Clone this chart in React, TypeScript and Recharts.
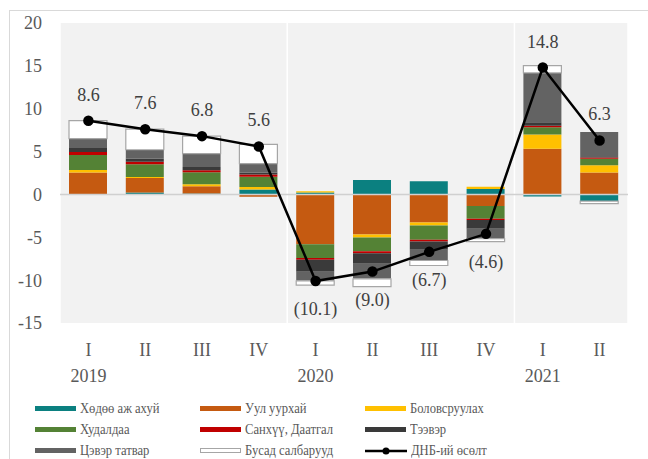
import {
  Bar,
  CartesianGrid,
  ComposedChart,
  LabelList,
  Line,
  ReferenceLine,
  XAxis,
  YAxis,
} from 'recharts'

const quarters = ['I', 'II', 'III', 'IV', 'I', 'II', 'III', 'IV', 'I', 'II']
const years = ['2019', '', '', '', '2020', '', '', '', '2021', '']

// contributions to GDP growth, percentage points
const agriculture = [0, 0.23, 0.1, 0.58, 0.23, 1.67, 1.55, 0.62, -0.23, -0.78]
const mining = [2.57, 1.7, 0.85, -0.27, -5.8, -4.67, -3.27, -1.36, 5.33, 2.57]
const manufacturing = [0.27, 0.1, 0.23, 0.3, 0.15, -0.35, -0.35, 0.27, 1.67, 0.82]
const trade = [1.75, 1.48, 1.4, 1.17, -1.63, -1.6, -1.67, -1.48, 0.85, 0.78]
const finance = [0.35, 0.3, 0.23, 0.27, -0.2, -0.23, -0.2, -0.15, 0.15, 0.15]
const transport = [0.47, 0.35, 0.39, 0.23, -1.4, -1.25, -0.97, -1.0, 0.43, 0.05]
const netTax = [1.09, 1.05, 1.56, 1.05, -1.05, -1.75, -1.25, -1.17, 5.75, 2.92]
const other = [2.1, 2.4, 2.04, 2.25, -0.5, -0.9, -0.58, -0.35, 0.85, -0.3]
const gdpGrowth = [8.6, 7.6, 6.8, 5.6, -10.1, -9.0, -6.7, -4.6, 14.8, 6.3]

const yTicks = [-15, -10, -5, 0, 5, 10, 15, 20]
const yearBreaks = [4, 8]

const series = [
  { key: 'agriculture', name: 'Хөдөө аж ахуй', color: '#0b8080' },
  { key: 'mining', name: 'Уул уурхай', color: '#c55a11' },
  { key: 'manufacturing', name: 'Боловсруулах', color: '#ffc000' },
  { key: 'trade', name: 'Худалдаа', color: '#548235' },
  { key: 'finance', name: 'Санхүү, Даатгал', color: '#c00000' },
  { key: 'transport', name: 'Тээвэр', color: '#3a3a3a' },
  { key: 'netTax', name: 'Цэвэр татвар', color: '#636363' },
  { key: 'other', name: 'Бусад салбарууд', color: '#ffffff' },
]

const data = quarters.map((q, i) => ({
  q,
  year: years[i],
  idx: i + 0.5,
  agriculture: agriculture[i],
  mining: mining[i],
  manufacturing: manufacturing[i],
  trade: trade[i],
  finance: finance[i],
  transport: transport[i],
  netTax: netTax[i],
  other: other[i],
  gdp: gdpGrowth[i],
}))

const FONT = 'Liberation Serif, Tinos, DejaVu Serif, serif'

const QuarterTick = (props: any) => {
  const { x, y, payload } = props
  const year = years[payload.index]
  return (
    <g>
      <text x={x} y={y + 25} textAnchor="middle" fontSize={18} fill="#595959" fontFamily={FONT}>
        {payload.value}
      </text>
      {year && (
        <text x={x} y={y + 51} textAnchor="middle" fontSize={18} fill="#595959" fontFamily={FONT}>
          {year}
        </text>
      )}
    </g>
  )
}

const GrowthLabel = (props: any) => {
  const { x, y, value } = props
  if (value == null) return null
  const neg = value < 0
  const text = neg ? `(${Math.abs(value).toFixed(1)})` : value.toFixed(1)
  return (
    <text x={x} y={y + (neg ? 34 : -20)} textAnchor="middle" fontSize={18} fill="#404040" fontFamily={FONT}>
      {text}
    </text>
  )
}

const legendItems = [
  ...series.map((s) => ({ name: s.name, color: s.color, kind: s.key === 'other' ? 'outline' : 'bar' })),
  { name: 'ДНБ-ий өсөлт', color: '#000000', kind: 'line' },
]

const Swatch = ({ kind, color }: { kind: string; color: string }) => {
  if (kind === 'line') {
    return (
      <svg width={42} height={10} style={{ display: 'block', flex: 'none' }}>
        <line x1={0} y1={5} x2={42} y2={5} stroke="#000" strokeWidth={2.5} />
        <circle cx={21} cy={5} r={3.5} fill="#000" />
      </svg>
    )
  }
  return (
    <div
      style={{
        flex: 'none',
        width: kind === 'outline' ? 39 : 41,
        height: kind === 'outline' ? 3 : 5,
        background: color,
        border: kind === 'outline' ? '1px solid #a6a6a6' : 'none',
      }}
    />
  )
}

export default function App() {
  return (
    <div
      style={{
        position: 'absolute',
        left: 0,
        top: 0,
        width: 648,
        height: 459,
        background: '#ffffff',
        overflow: 'hidden',
        fontFamily: FONT,
      }}
    >
      <div
        style={{
          position: 'absolute',
          left: 9,
          top: 10,
          width: 660,
          height: 470,
          borderTop: '1.5px solid #d9d9d9',
          borderLeft: '1.5px solid #d9d9d9',
        }}
      />
      <div style={{ position: 'absolute', left: 0, top: 0 }}>
        <ComposedChart
          width={648}
          height={459}
          data={data}
          stackOffset="sign"
          margin={{ top: 23, right: 20, bottom: 76, left: 0 }}
        >
          <XAxis xAxisId="sep" type="number" dataKey="idx" domain={[0, 10]} ticks={yearBreaks} hide />
          <CartesianGrid
            xAxisId="sep"
            horizontal={false}
            vertical
            stroke="#ffffff"
            strokeWidth={1.5}
            fill="#f2f2f2"
          />
          <XAxis
            dataKey="q"
            axisLine={false}
            tickLine={false}
            height={60}
            interval={0}
            tick={<QuarterTick />}
          />
          <YAxis
            domain={[-15, 20]}
            ticks={yTicks}
            interval={0}
            axisLine={false}
            tickLine={false}
            width={60}
            tickMargin={12}
            tick={{ fontSize: 18, fill: '#595959', fontFamily: FONT }}
          />
          <ReferenceLine y={0} stroke="#d0d0d0" strokeWidth={1.5} />
          {series.map((s) => (
            <Bar
              key={s.key}
              dataKey={s.key}
              name={s.name}
              stackId="a"
              fill={s.color}
              stroke={s.key === 'other' ? '#a6a6a6' : 'none'}
              strokeWidth={1.2}
              barSize={38}
              isAnimationActive={false}
            />
          ))}
          <Line
            dataKey="gdp"
            name="ДНБ-ий өсөлт"
            stroke="#000000"
            strokeWidth={2.5}
            dot={{ r: 4, fill: '#000', stroke: '#000' }}
            activeDot={false}
            isAnimationActive={false}
          >
            <LabelList dataKey="gdp" content={<GrowthLabel />} />
          </Line>
        </ComposedChart>
      </div>
      <div
        style={{
          position: 'absolute',
          left: 35,
          top: 398,
          display: 'grid',
          gridTemplateColumns: '165px 165px 200px',
          gridAutoRows: '21px',
          fontSize: 15,
          color: '#595959',
        }}
      >
        {legendItems.map((item) => (
          <div key={item.name} style={{ display: 'flex', alignItems: 'center', gap: 4 }}>
            <Swatch kind={item.kind} color={item.color} />
            <span
              style={{
                display: 'inline-block',
                whiteSpace: 'nowrap',
                transform: 'scaleX(0.84)',
                transformOrigin: 'left center',
              }}
            >
              {item.name}
            </span>
          </div>
        ))}
      </div>
    </div>
  )
}
